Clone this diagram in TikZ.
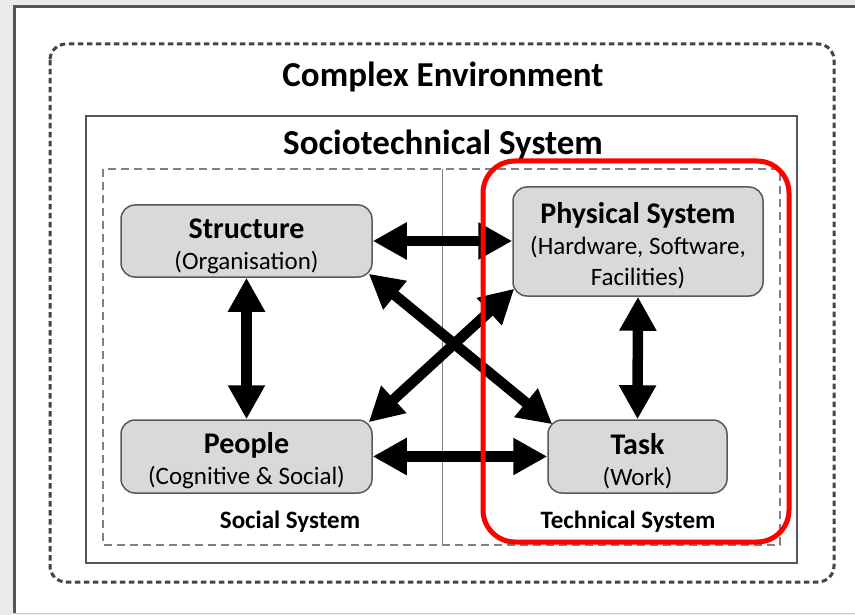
\documentclass[tikz,border=0pt]{standalone}
\usepackage{fontspec}
\setmainfont{Carlito}
\usetikzlibrary{arrows.meta}
\definecolor{pagebg}{HTML}{EBEBEB}
\definecolor{boxfill}{HTML}{D9D9D9}
\definecolor{boxline}{HTML}{595959}
\definecolor{framegray}{HTML}{555555}
\definecolor{dotgray}{HTML}{444444}
\definecolor{dashgray}{HTML}{808080}
\definecolor{hilite}{HTML}{FF0000}
\tikzset{
  sysbox/.style={draw=boxline, fill=boxfill, line width=1.5pt, rounded corners=14pt,
    align=center, inner sep=0pt, font=\fontsize{25}{31}\selectfont},
  bigarrow/.style={line width=10.5pt,
    {Triangle[length=34pt,width=35pt]}-{Triangle[length=34pt,width=35pt]}},
  biglabel/.style={font=\fontsize{35}{40}\selectfont\bfseries, anchor=base, inner sep=0pt},
  sublabel/.style={font=\fontsize{25}{30}\selectfont\bfseries, anchor=base, inner sep=0pt},
}
\newcommand{\ttl}[1]{{\fontsize{30}{31}\selectfont\bfseries\rule{0pt}{30pt}#1}}
\begin{document}
\begin{tikzpicture}[x=1pt,y=-1pt]
\useasboundingbox (0,0) rectangle (855,615);
% page
\fill[pagebg] (0,0) rectangle (855,615);
\fill[white] (14,7) rectangle (855,613);
\draw[framegray, line width=3pt] (14.5,613) -- (14.5,6.5) -- (855,6.5);
\draw[gray!40, line width=1pt] (14,613.5) -- (855,613.5);
% outer dotted environment
\draw[dotgray, line width=3pt, dash pattern=on 5.5pt off 3.5pt, rounded corners=16pt]
  (50,44) rectangle (834,582);
\node[biglabel] (env) at (443,87) {Complex Environment};
% sociotechnical box
\draw[framegray, line width=2pt] (86,116) rectangle (797,563);
\node[biglabel] (sts) at (443,155) {Sociotechnical System};
% inner dashed box and divider
\draw[dashgray, line width=1.2pt, dash pattern=on 8pt off 5pt] (103,169) rectangle (780,545);
\draw[dashgray, line width=1pt] (442,169) -- (442,545);
% nodes
\node[sysbox, minimum width=251pt, minimum height=72pt] (s) at (246.5,241)
  {\ttl{Structure}\\(Organisation)};
\node[sysbox, minimum width=250pt, minimum height=109pt] (p) at (638,241.5)
  {\ttl{Physical System}\\(Hardware, Software,\\Facilities)};
\node[sysbox, minimum width=251pt, minimum height=73pt] (pe) at (246.5,456.5)
  {\ttl{People}\\(Cognitive \& Social)};
\node[sysbox, minimum width=179pt, minimum height=73pt] (t) at (637.5,456.5)
  {\ttl{Task}\\(Work)};
\node[sublabel] (soc) at (290,528) {Social System};
\node[sublabel] (tec) at (628,528) {Technical System};
% arrows
\draw[bigarrow] (s.east) -- (p.west |- s.east);
\draw[bigarrow] (s.south) -- (pe.north);
\draw[bigarrow] (p.south) -- (t.north);
\draw[bigarrow] (pe.east) -- (t.west);
\draw[bigarrow] ([shift={(-4,-4)}]s.south east) -- ([shift={(5,5)}]t.north west);
\draw[bigarrow] ([shift={(2,-8)}]p.south west) -- ([shift={(-4,3)}]pe.north east);
% red highlight
\draw[hilite, line width=5pt, rounded corners=32pt] (483,161) rectangle (789,542);
\end{tikzpicture}
\end{document}
